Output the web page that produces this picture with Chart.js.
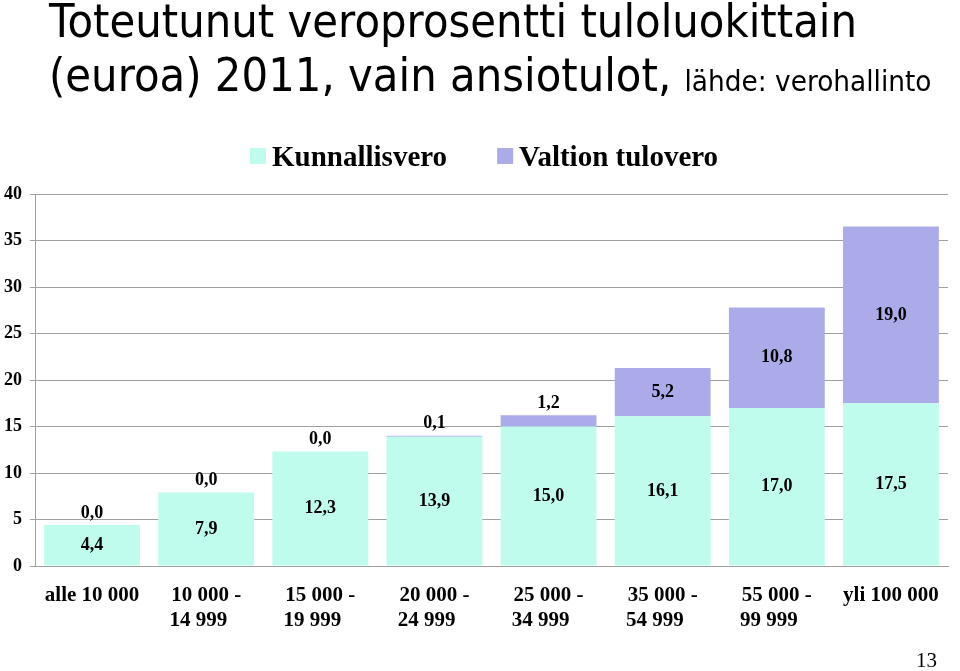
<!DOCTYPE html>
<html>
<head>
<meta charset="utf-8">
<script src="https://cdn.jsdelivr.net/npm/chart.js@4.4.1/dist/chart.umd.min.js"></script>
<style>
  html, body { margin: 0; padding: 0; background: #fff; }
  #wrap { position: relative; width: 960px; height: 671px; overflow: hidden; }
  #chart { position: absolute; left: 0; top: 0; }
  .title { position: absolute; left: 49px; white-space: nowrap; font-family: "DejaVu Sans", sans-serif;
           font-size: 46px; line-height: 46px; color: #000; transform-origin: 0 0; }
  .title small { font-size: 29px; }
  #pageNo { position: absolute; left: 916px; top: 648px; font-family: "Liberation Serif", serif; font-size: 21px; color: #000; }
</style>
</head>
<body>
<div id="wrap">
  <canvas id="chart" width="960" height="671"></canvas>
  <div class="title" id="t1" style="top:-2px">Toteutunut veroprosentti tuloluokittain</div>
  <div class="title" id="t2" style="top:52px">(euroa) 2011, vain ansiotulot, <small>lähde: verohallinto</small></div>
  <div id="pageNo">13</div>
</div>
<script>
const incomeClasses = [
    ['alle 10 000'],
    ['10 000 -', '14 999   '],
    ['15 000 -', '19 999   '],
    ['20 000 -', '24 999   '],
    ['25 000 -', '34 999   '],
    ['35 000 -', '54 999   '],
    ['55 000 -', '99 999   '],
    ['yli 100 000']
];
const kunnallisvero = [4.4, 7.9, 12.3, 13.9, 15.0, 16.1, 17.0, 17.5];
const valtionTulovero = [0.0, 0.0, 0.0, 0.1, 1.2, 5.2, 10.8, 19.0];
const yTicks = [0, 5, 10, 15, 20, 25, 30, 35, 40];

const cyanColor = '#C0FCEE';
const lilacColor = '#ABABEA';
const gridColor = '#A0A0A0';
const serif = '"Liberation Serif", "Times New Roman", serif';

// fit title width like in the slide
function fitTitle() {
    const t1 = document.getElementById('t1');
    const t2 = document.getElementById('t2');
    const scale = 808 / t1.getBoundingClientRect().width;
    t1.style.transform = `scaleX(${scale})`;
    t2.style.transform = `scaleX(${scale})`;
}
fitTitle();

function formatValue(v) {
    return v.toFixed(1).replace('.', ',');
}

const valueLabels = {
    id: 'valueLabels',
    afterDatasetsDraw(chart) {
        const ctx = chart.ctx;
        ctx.save();
        ctx.font = `bold 18px ${serif}`;
        ctx.fillStyle = '#000';
        ctx.textAlign = 'center';
        ctx.textBaseline = 'middle';
        chart.data.datasets.forEach((ds, di) => {
            const meta = chart.getDatasetMeta(di);
            meta.data.forEach((bar, i) => {
                const h = bar.base - bar.y;
                let y = (bar.y + bar.base) / 2;
                if (di === 1 && h < 25) {
                    y = bar.y - 12;
                }
                ctx.fillText(formatValue(ds.data[i]), bar.x, y);
            });
        });
        ctx.restore();
    }
};

const slideLegend = {
    id: 'slideLegend',
    afterDraw(chart) {
        const ctx = chart.ctx;
        ctx.save();
        ctx.font = `bold 29px ${serif}`;
        ctx.textBaseline = 'alphabetic';
        ctx.textAlign = 'left';
        let x = 250;
        chart.data.datasets.forEach(ds => {
            ctx.fillStyle = ds.backgroundColor;
            ctx.fillRect(x, 148, 16, 16);
            ctx.fillStyle = '#000';
            ctx.fillText(ds.label, x + 22, 166);
            x += 22 + ctx.measureText(ds.label).width + 50;
        });
        ctx.restore();
    }
};

const ctx = document.getElementById('chart').getContext('2d');
new Chart(ctx, {
    type: 'bar',
    data: {
        labels: incomeClasses,
        datasets: [
            { label: 'Kunnallisvero', data: kunnallisvero, backgroundColor: cyanColor },
            { label: 'Valtion tulovero', data: valtionTulovero, backgroundColor: lilacColor }
        ]
    },
    options: {
        responsive: false,
        animation: false,
        barPercentage: 0.84,
        categoryPercentage: 1.0,
        layout: { padding: { top: 194, left: 0, right: 12, bottom: 0 } },
        plugins: {
            legend: { display: false },
            tooltip: { enabled: false }
        },
        scales: {
            x: {
                stacked: true,
                grid: { display: false, drawTicks: false },
                border: { display: true, color: gridColor },
                ticks: {
                    color: '#000',
                    font: { family: serif, size: 21, weight: 'bold', lineHeight: 1.2 },
                    padding: 17,
                    maxRotation: 0,
                    autoSkip: false
                },
                afterFit: scale => { scale.height = 105; }
            },
            y: {
                stacked: true,
                min: 0,
                max: 40,
                afterBuildTicks: scale => { scale.ticks = yTicks.map(v => ({ value: v })); },
                grid: { color: gridColor, tickLength: 5 },
                border: { color: gridColor },
                ticks: {
                    color: '#000',
                    font: { family: serif, size: 18, weight: 'bold' },
                    padding: 8
                },
                afterFit: scale => { scale.width = 35; }
            }
        }
    },
    plugins: [valueLabels, slideLegend]
});
</script>
</body>
</html>
